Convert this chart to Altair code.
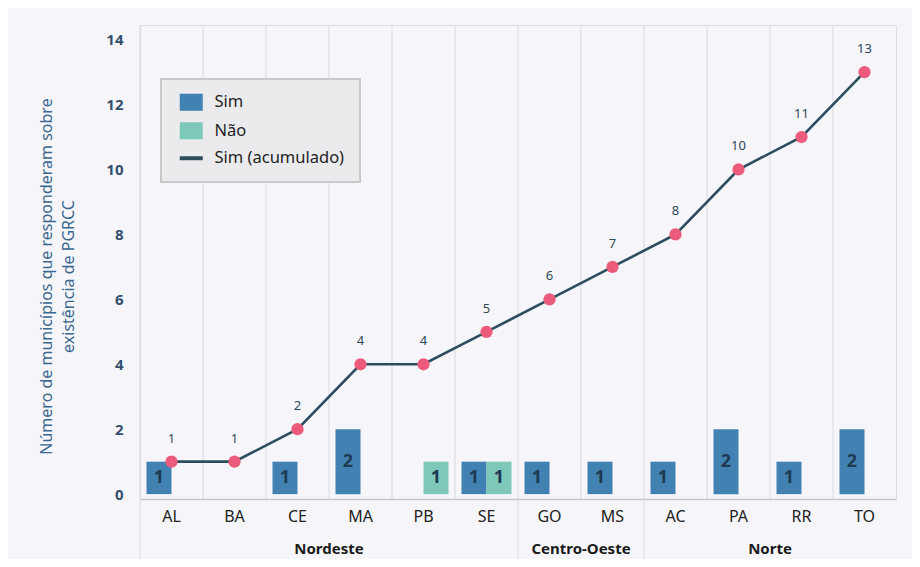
import altair as alt
import pandas as pd

# ---- data ----
states = ["AL", "BA", "CE", "MA", "PB", "SE", "GO", "MS", "AC", "PA", "RR", "TO"]
sim = [1, 0, 1, 2, 0, 1, 1, 1, 1, 2, 1, 2]
nao = [0, 0, 0, 0, 1, 1, 0, 0, 0, 0, 0, 0]
sim_acum = [1, 1, 2, 4, 4, 5, 6, 7, 8, 10, 11, 13]
regions = ["Nordeste", "Centro-Oeste", "Norte"]
region_first = ["AL", "GO", "AC"]
region_mid = ["MA", "MS", "RR"]
y_ticks = [0, 2, 4, 6, 8, 10, 12, 14]
series = ["Sim", "Não", "Sim (acumulado)"]
colors = ["#4282b2", "#7ec8ba", "#2b4d5e"]

PLOT_W, PLOT_H = 756, 474
FONT = "Noto Sans"

rows = []
for s, a, b in zip(states, sim, nao):
    if a > 0:
        rows.append({"state": s, "resposta": "Sim", "valor": a})
    if b > 0:
        rows.append({"state": s, "resposta": "Não", "valor": b})
df_bars = pd.DataFrame(rows)
df_line = pd.DataFrame({"state": states, "acum": sim_acum})
df_states = pd.DataFrame({"state": states})
df_reg = pd.DataFrame({"region": regions, "first": region_first, "mid": region_mid})

x_scale = alt.Scale(domain=states, paddingInner=0, paddingOuter=0)
x_axis = alt.Axis(title=None, labelAngle=0, labelFontSize=16, labelColor="#222222",
                  labelPadding=9, ticks=False, grid=False, domainColor="#c6c6ce",
                  domainWidth=1.5, labelFont=FONT)
y_scale = alt.Scale(domain=[-0.15, 14.45], nice=False, zero=False)
y_axis = alt.Axis(title=["Número de municípios que responderam sobre", "existência de PGRCC"],
                  values=y_ticks, grid=False, ticks=False, domain=False,
                  labelFontSize=15, labelFontWeight="bold", labelColor="#34506e",
                  labelPadding=17, labelFont=FONT,
                  titleFontSize=16, titleFontWeight="normal", titleColor="#3a6890",
                  titleFont=FONT, titlePadding=29, titleLineHeight=22, titleY=251)

X = lambda f, **kw: alt.X(f, type="nominal", scale=x_scale, axis=x_axis, **kw)
xoff = alt.XOffset("resposta:N", scale=alt.Scale(domain=["Sim", "Não"], paddingOuter=0.26, paddingInner=0))

line_sel = "datum.value === 'Sim (acumulado)'"
legend = alt.Legend(
    title=None, orient="none", legendX=21, legendY=54,
    labelFontSize=16.5, labelColor="#222222", labelFont=FONT,
    symbolSize=529, padding=15, rowPadding=10.5, labelOffset=15, symbolOffset=7,
    fillColor="#ebebee", strokeColor="#c8c8cd",
    symbolType=alt.ExprRef(expr=f"{line_sel} ? 'M-1,0L1,0' : 'M-1,-0.74L1,-0.74L1,0.74L-1,0.74Z'"),
    symbolStrokeColor=alt.ExprRef(expr=f"{line_sel} ? '#2b4d5e' : 'transparent'"),
    symbolStrokeWidth=alt.ExprRef(expr=f"{line_sel} ? 4 : 0"),
    symbolOpacity=1,
)

grid = alt.Chart(df_states).mark_rule(color="#d8d8e0", strokeWidth=1).encode(
    x=X("state", bandPosition=0), y=alt.value(0), y2=alt.value(PLOT_H))
seps = alt.Chart(df_reg).mark_rule(color="#d8d8e0", strokeWidth=1).encode(
    x=X("first", bandPosition=0), y=alt.value(PLOT_H), y2=alt.value(PLOT_H + 60))

bars = alt.Chart(df_bars).mark_bar().encode(
    x=X("state"), xOffset=xoff,
    y=alt.Y("valor:Q", scale=y_scale, axis=y_axis),
    color=alt.Color("resposta:N", scale=alt.Scale(domain=series, range=colors), legend=legend),
)
bar_text = alt.Chart(df_bars).transform_calculate(mid="datum.valor / 2").mark_text(
    fontSize=18, fontWeight="bold", color="#1e3a52", font=FONT, baseline="middle").encode(
    x=X("state"), xOffset=xoff,
    y=alt.Y("mid:Q", scale=y_scale, axis=y_axis),
    text="valor:Q",
)
line = alt.Chart(df_line).mark_line(color="#2b4d5e", strokeWidth=2.6).encode(
    x=X("state"), y=alt.Y("acum:Q", scale=y_scale, axis=y_axis))
pts = alt.Chart(df_line).mark_circle(size=150, color="#ec5b7c", opacity=1).encode(
    x=X("state"), y=alt.Y("acum:Q", scale=y_scale, axis=y_axis))
pt_labels = alt.Chart(df_line).mark_text(dy=-23, fontSize=13, color="#2e4a5a", font=FONT).encode(
    x=X("state"), y=alt.Y("acum:Q", scale=y_scale, axis=y_axis), text="acum:Q")
reg_labels = alt.Chart(df_reg).mark_text(fontSize=15, fontWeight="bold", color="#1a1a1a",
                                         font=FONT, baseline="middle").encode(
    x=X("mid", bandPosition=0), y=alt.value(PLOT_H + 50), text="region:N")

chart = alt.layer(grid, seps, bars, bar_text, line, pts, pt_labels, reg_labels).properties(
    width=PLOT_W, height=PLOT_H,
    autosize=alt.AutoSizeParams(type="none"),
    padding={"left": 132, "top": 17, "right": 16, "bottom": 60},
    background="#f6f6fa",
).configure_view(stroke=None).configure(font=FONT).configure_legend(strokeWidth=2)

chart.save("out.html", embed_options={"renderer": "svg", "actions": False})
